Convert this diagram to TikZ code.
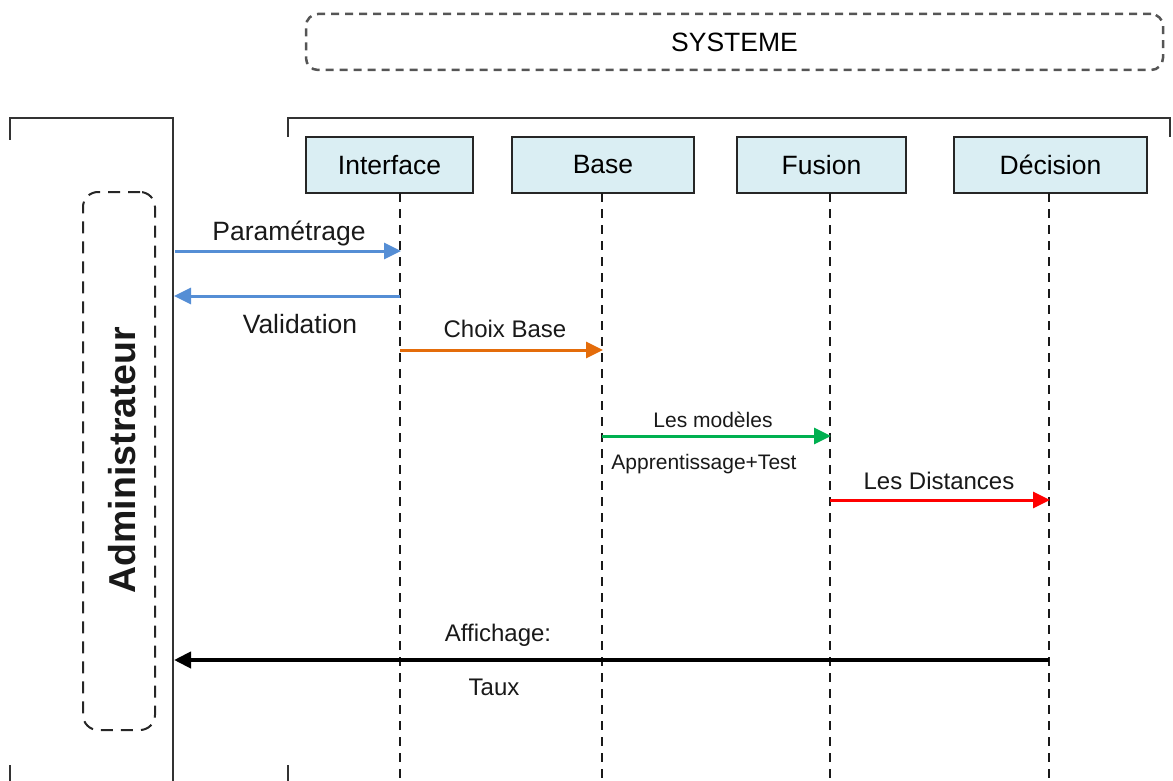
\documentclass[tikz,border=0pt]{standalone}
\usepackage{fontspec}
\setmainfont{Liberation Sans}
\usetikzlibrary{arrows.meta}
\definecolor{boxfill}{HTML}{DAEEF3}
\definecolor{msgblue}{HTML}{558ED5}
\definecolor{msgorange}{HTML}{E46C0A}
\definecolor{msggreen}{HTML}{00B050}
\definecolor{msgred}{HTML}{FF0000}
\definecolor{framegray}{HTML}{555555}
\newcommand{\fbig}{\fontsize{26.5}{30}\selectfont}
\newcommand{\fmid}{\fontsize{24}{28}\selectfont}
\newcommand{\fsmall}{\fontsize{21}{25}\selectfont}
\tikzset{
  objbox/.style={draw=black!85, line width=1.6pt, fill=boxfill, minimum height=56pt,
    inner sep=0pt, font=\fbig},
  life/.style={draw=black!90, line width=2.3pt, dash pattern=on 9pt off 7pt},
  bracket/.style={draw=black!80, line width=2pt},
  msg/.style={line width=3pt, -{Triangle[length=17pt,width=16pt]}, shorten >=-1pt},
  lbl/.style={inner sep=0pt, text=black!90},
}
\begin{document}
\begin{tikzpicture}[x=1pt,y=-1pt]
\useasboundingbox (0,0) rectangle (1173,781);

% system frame
\node[draw=framegray, line width=2.5pt, dash pattern=on 8pt off 6pt, rounded corners=12pt,
  minimum width=857pt, minimum height=56pt, inner sep=0pt, font=\fbig] (sys) at (734.5,42) {SYSTEME};

% brackets
\draw[bracket] (10,140) -- (10,118) -- (173,118) -- (173,781);
\draw[bracket] (288,137) -- (288,118) -- (1170,118) -- (1170,137);
\draw[bracket] (10,765) -- (10,781);
\draw[bracket] (288,765) -- (288,781);

% actor
\node[draw=black!85, line width=2pt, dash pattern=on 12pt off 8pt, rounded corners=15pt,
  minimum width=72pt, minimum height=538pt, inner sep=0pt] (admin) at (119,461) {};
\node[lbl, rotate=90, font=\fontsize{37.5}{40}\selectfont\bfseries] (adminlbl) at (122,460) {Administrateur};

% objects
\node[objbox, minimum width=167pt] (iface) at (389.5,165) {Interface};
\node[objbox, minimum width=182pt] (base) at (603,165) {Base};
\node[objbox, minimum width=169pt] (fusion) at (821.5,165) {Fusion};
\node[objbox, minimum width=193pt] (dec) at (1050.5,165) {Décision};

% lifelines
\coordinate (lI) at (400,193);
\coordinate (lB) at (602,193);
\coordinate (lF) at (830,193);
\coordinate (lD) at (1049,193);
\coordinate (lA) at (175,193);
\coordinate (endI) at (400,781);
\coordinate (endB) at (602,781);
\coordinate (endF) at (830,781);
\coordinate (endD) at (1049,781);
\draw[life] (lI) -- (endI);
\draw[life] (lB) -- (endB);
\draw[life] (lF) -- (endF);
\draw[life] (lD) -- (endD);

% messages
\draw[msg, msgblue] (lA |- 0,251) -- (lI |- 0,251);
\node[lbl, font=\fbig] (m1) at (289,233) {Paramétrage};
\draw[msg, msgblue] (lI |- 0,296) -- (lA |- 0,296);
\node[lbl, font=\fbig] (m2) at (300,324) {Validation};
\draw[msg, msgorange] (lI |- 0,350) -- (lB |- 0,350);
\node[lbl, font=\fmid] (m3) at (505,329) {Choix Base};
\draw[msg, msggreen] (lB |- 0,436) -- (lF |- 0,436);
\node[lbl, font=\fsmall] (m4) at (713,420) {Les modèles};
\node[lbl, font=\fsmall] (m4b) at (704,464) {Apprentissage+Test};
\draw[msg, msgred] (lF |- 0,500) -- (lD |- 0,500);
\node[lbl, font=\fmid] (m5) at (939,481) {Les Distances};
\draw[msg, black, line width=4pt] (lD |- 0,660) -- (lA |- 0,660);
\node[lbl, font=\fmid] (m6) at (498,635) {Affichage:};
\node[lbl, font=\fmid] (m6b) at (494,687) {Taux};
\end{tikzpicture}
\end{document}
